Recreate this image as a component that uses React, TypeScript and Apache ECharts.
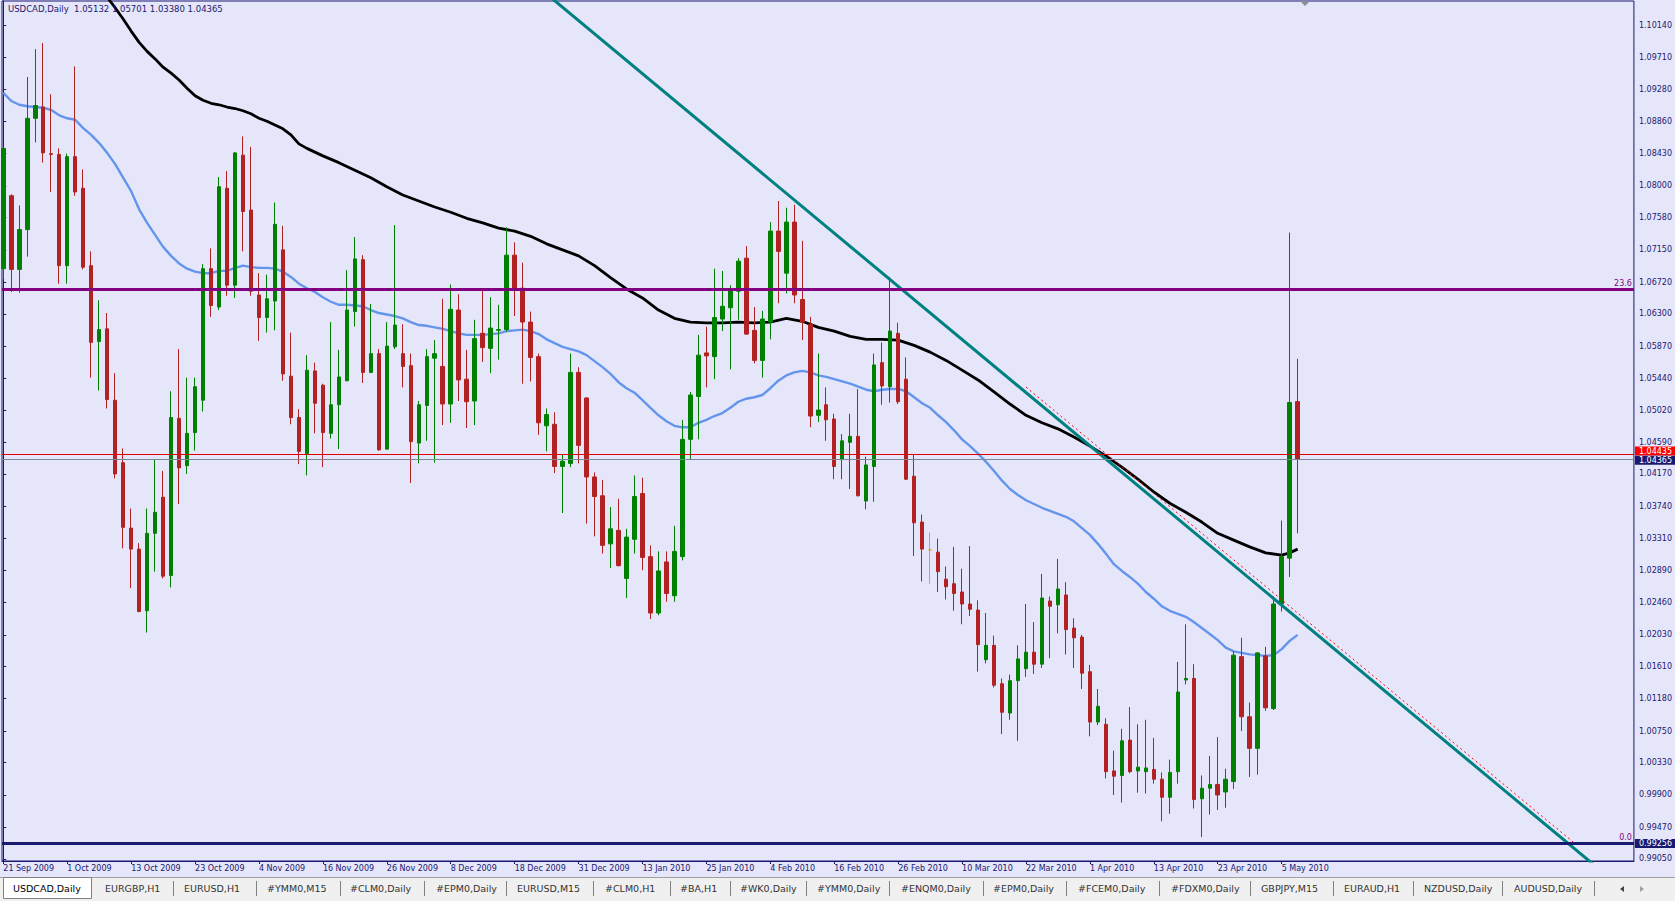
import React, { useEffect, useRef } from 'react';
import * as echarts from 'echarts';

// ---------- data ----------
const SYMBOL_TITLE = 'USDCAD,Daily  1.05132 1.05701 1.03380 1.04365';

const DATE_LABELS = [
  '21 Sep 2009', '1 Oct 2009', '13 Oct 2009', '23 Oct 2009', '4 Nov 2009', '16 Nov 2009',
  '26 Nov 2009', '8 Dec 2009', '18 Dec 2009', '31 Dec 2009', '13 Jan 2010', '25 Jan 2010',
  '4 Feb 2010', '16 Feb 2010', '26 Feb 2010', '10 Mar 2010', '22 Mar 2010', '1 Apr 2010',
  '13 Apr 2010', '23 Apr 2010', '5 May 2010',
];
const BARS_PER_DATE_LABEL = 8;

const PRICE_TICKS = [
  '1.10140', '1.09710', '1.09280', '1.08860', '1.08430', '1.08000', '1.07580', '1.07150',
  '1.06720', '1.06300', '1.05870', '1.05440', '1.05020', '1.04590', '1.04170', '1.03740',
  '1.03310', '1.02890', '1.02460', '1.02030', '1.01610', '1.01180', '1.00750', '1.00330',
  '0.99900', '0.99470', '0.99050',
];

const OPEN = [
  1.0690, 1.0787, 1.0689, 1.0742, 1.0890, 1.0905, 1.0843, 1.0842, 1.0694, 1.0839,
  1.0797, 1.0694, 1.0593, 1.0610, 1.0515, 1.0432, 1.0345, 1.0317, 1.0235, 1.0338,
  1.0386, 1.0282, 1.0491, 1.0428, 1.0472, 1.0515, 1.0690, 1.0639, 1.0797, 1.0668,
  1.0841, 1.0768, 1.0655, 1.0625, 1.0647, 1.0715, 1.0547, 1.0492, 1.0444, 1.0554,
  1.0535, 1.0471, 1.0509, 1.0541, 1.0633, 1.0702, 1.0552, 1.0577, 1.0450, 1.0586,
  1.0577, 1.0561, 1.0458, 1.0508, 1.0571, 1.0560, 1.0510, 1.0635, 1.0543, 1.0514,
  1.0604, 1.0584, 1.0608, 1.0609, 1.0708, 1.0664, 1.0619, 1.0573, 1.0481, 1.0483,
  1.0427, 1.0431, 1.0552, 1.0518, 1.0413, 1.0388, 1.0324, 1.0342, 1.0278, 1.0330,
  1.0391, 1.0307, 1.0232, 1.0300, 1.0255, 1.0307, 1.0463, 1.0520, 1.0578, 1.0573,
  1.0623, 1.0638, 1.0660, 1.0704, 1.0608, 1.0568, 1.0619, 1.0740, 1.0684, 1.0752,
  1.0649, 1.0616, 1.0495, 1.0509, 1.0490, 1.0436, 1.0459, 1.0467, 1.0381, 1.0427,
  1.0565, 1.0533, 1.0604, 1.0543, 1.0414, 1.0353, 1.0316, 1.0313, 1.0277, 1.0271,
  1.0260, 1.0244, 1.0236, 1.0170, 1.0189, 1.0138, 1.0099, 1.0142, 1.0158, 1.0180,
  1.0164, 1.0248, 1.0243, 1.0256, 1.0212, 1.0200, 1.0154, 1.0087, 1.0084, 1.0022,
  1.0016, 1.0063, 1.0022, 1.0021, 1.0024, 1.0011, 0.9987, 1.0021, 1.0143, 1.0145,
  0.9985, 0.9999, 1.0004, 0.9994, 1.0008, 1.0174, 1.0094, 1.0052, 1.0175, 1.0105,
  1.0244, 1.0305, 1.05132,
];
const HIGH = [
  1.0852, 1.0789, 1.0774, 1.0945, 1.0982, 1.0990, 1.0922, 1.0850, 1.0843, 1.0959,
  1.0822, 1.0713, 1.0648, 1.0631, 1.0551, 1.0451, 1.0371, 1.0325, 1.0371, 1.0436,
  1.0421, 1.0527, 1.0583, 1.0545, 1.0545, 1.0696, 1.0717, 1.0812, 1.0820, 1.0845,
  1.0866, 1.0852, 1.0684, 1.0682, 1.0778, 1.0747, 1.0605, 1.0503, 1.0575, 1.0565,
  1.0537, 1.0619, 1.0582, 1.0688, 1.0732, 1.0708, 1.0643, 1.0583, 1.0619, 1.0748,
  1.0616, 1.0577, 1.0514, 1.0583, 1.0595, 1.0650, 1.0669, 1.0656, 1.0582, 1.0622,
  1.0661, 1.0652, 1.0642, 1.0745, 1.0725, 1.0698, 1.0633, 1.0577, 1.0504, 1.0499,
  1.0443, 1.0577, 1.0559, 1.0519, 1.0419, 1.0409, 1.0373, 1.0384, 1.0344, 1.0415,
  1.0412, 1.0322, 1.0314, 1.0314, 1.0348, 1.0489, 1.0526, 1.0602, 1.0613, 1.0690,
  1.0687, 1.0668, 1.0704, 1.0720, 1.0639, 1.0634, 1.0752, 1.0780, 1.0771, 1.0775,
  1.0727, 1.0626, 1.0577, 1.0532, 1.0497, 1.0470, 1.0497, 1.0530, 1.0440, 1.0577,
  1.0592, 1.0679, 1.0618, 1.0572, 1.0443, 1.0363, 1.0339, 1.0331, 1.0294, 1.0320,
  1.0291, 1.0321, 1.0249, 1.0232, 1.0202, 1.0145, 1.0150, 1.0189, 1.0244, 1.0220,
  1.0284, 1.0254, 1.0304, 1.0273, 1.0225, 1.0203, 1.0163, 1.0131, 1.0092, 1.0049,
  1.0078, 1.0107, 1.0084, 1.0090, 1.0066, 1.0020, 1.0037, 1.0167, 1.0217, 1.0164,
  1.0016, 1.0042, 1.0067, 1.0025, 1.0181, 1.0199, 1.0113, 1.0180, 1.0187, 1.0254,
  1.0355, 1.0738, 1.05701,
];
const LOW = [
  1.0676, 1.0659, 1.0658, 1.0706, 1.0858, 1.0831, 1.0792, 1.0670, 1.0670, 1.0787,
  1.0689, 1.0545, 1.0528, 1.0504, 1.0411, 1.0318, 1.0265, 1.0233, 1.0206, 1.0287,
  1.0278, 1.0266, 1.0377, 1.0417, 1.0448, 1.0500, 1.0626, 1.0635, 1.0654, 1.0651,
  1.0713, 1.0654, 1.0594, 1.0605, 1.0608, 1.0541, 1.0483, 1.0430, 1.0415, 1.0471,
  1.0426, 1.0464, 1.0450, 1.0540, 1.0613, 1.0538, 1.0551, 1.0448, 1.0449, 1.0583,
  1.0532, 1.0405, 1.0431, 1.0461, 1.0432, 1.0482, 1.0485, 1.0514, 1.0478, 1.0482,
  1.0566, 1.0551, 1.0569, 1.0606, 1.0627, 1.0537, 1.0540, 1.0469, 1.0447, 1.0418,
  1.0365, 1.0426, 1.0431, 1.0351, 1.0334, 1.0311, 1.0292, 1.0294, 1.0252, 1.0311,
  1.0289, 1.0224, 1.0229, 1.0247, 1.0247, 1.0302, 1.0436, 1.0463, 1.0532, 1.0543,
  1.0607, 1.0556, 1.0622, 1.0602, 1.0564, 1.0545, 1.0596, 1.0644, 1.0657, 1.0644,
  1.0595, 1.0479, 1.0486, 1.0461, 1.0410, 1.0410, 1.0397, 1.0387, 1.0370, 1.0380,
  1.0509, 1.0512, 1.0510, 1.0409, 1.0308, 1.0274, 1.0271, 1.0260, 1.0250, 1.0235,
  1.0217, 1.0228, 1.0154, 1.0165, 1.0133, 1.0071, 1.0090, 1.0062, 1.0147, 1.0151,
  1.0159, 1.0172, 1.0205, 1.0177, 1.0159, 1.0131, 1.0068, 1.0083, 1.0012, 0.9990,
  0.9980, 1.0019, 0.9993, 0.9992, 1.0005, 0.9955, 0.9965, 1.0005, 1.0137, 0.9972,
  0.9934, 0.9964, 0.9970, 0.9973, 0.9998, 1.0075, 1.0014, 1.0017, 1.0102, 1.0103,
  1.0234, 1.0280, 1.03380,
];
const CLOSE = [
  1.0850, 1.0689, 1.0742, 1.0890, 1.0907, 1.0844, 1.0842, 1.0694, 1.0839, 1.0792,
  1.0692, 1.0592, 1.0609, 1.0516, 1.0417, 1.0346, 1.0317, 1.0234, 1.0338, 1.0366,
  1.0281, 1.0492, 1.0425, 1.0471, 1.0533, 1.0690, 1.0641, 1.0799, 1.0668, 1.0844,
  1.0766, 1.0660, 1.0625, 1.0650, 1.0749, 1.0550, 1.0492, 1.0447, 1.0555, 1.0511,
  1.0472, 1.0509, 1.0546, 1.0635, 1.0703, 1.0552, 1.0577, 1.0449, 1.0587, 1.0615,
  1.0560, 1.0460, 1.0509, 1.0573, 1.0577, 1.0510, 1.0636, 1.0542, 1.0513, 1.0597,
  1.0585, 1.0611, 1.0609, 1.0708, 1.0662, 1.0619, 1.0572, 1.0485, 1.0496, 1.0427,
  1.0434, 1.0552, 1.0455, 1.0413, 1.0387, 1.0322, 1.0344, 1.0295, 1.0333, 1.0387,
  1.0306, 1.0232, 1.0288, 1.0258, 1.0314, 1.0463, 1.0522, 1.0575, 1.0574, 1.0625,
  1.0640, 1.0661, 1.0700, 1.0603, 1.0568, 1.0623, 1.0740, 1.0713, 1.0752, 1.0655,
  1.0619, 1.0494, 1.0502, 1.0489, 1.0427, 1.0461, 1.0467, 1.0388, 1.0429, 1.0562,
  1.0534, 1.0607, 1.0513, 1.0410, 1.0352, 1.0317, 1.0316, 1.0287, 1.0267, 1.0258,
  1.0244, 1.0237, 1.0190, 1.0189, 1.0136, 1.0100, 1.0142, 1.0171, 1.0180, 1.0164,
  1.0252, 1.0241, 1.0264, 1.0210, 1.0199, 1.0152, 1.0087, 1.0108, 1.0021, 1.0015,
  1.0062, 1.0021, 1.0027, 1.0026, 1.0011, 0.9987, 1.0020, 1.0127, 1.0145, 0.9984,
  0.9999, 1.0004, 0.9990, 1.0011, 1.0176, 1.0094, 1.0052, 1.0179, 1.0106, 1.0244,
  1.0307, 1.0512, 1.04365,
];

// slow moving average (black), read at these bar positions
const SLOW_MA_BARS = [
  12, 13, 14, 15, 16, 17, 18, 19, 20, 21, 22, 23, 24, 25, 26, 27, 28, 29, 30, 31, 32, 33, 34, 35, 36, 37,
  38, 40, 42, 44, 46, 48, 50, 52, 54, 56, 58, 60, 62, 64, 66, 68, 70, 72, 74, 76, 78, 80, 82, 84, 86, 88,
  90, 92, 94, 96, 98, 100, 102, 104, 106, 108, 110, 112, 114, 116, 118, 120, 122, 124, 126, 128, 130,
  132, 134, 136, 138, 140, 142, 144, 146, 148, 150, 152, 154, 156, 158, 160, 161, 162,
];
const SLOW_MA = [
  1.1063, 1.1051, 1.1037, 1.1022, 1.1006, 1.0991, 1.0979, 1.0969, 1.0958, 1.0950, 1.0941, 1.0930, 1.0920,
  1.0914, 1.0910, 1.0908, 1.0905, 1.0903, 1.0900, 1.0896, 1.0890, 1.0886, 1.0881, 1.0876, 1.0868, 1.0856,
  1.0850, 1.0840, 1.0831, 1.0821, 1.0811, 1.0799, 1.0788, 1.0780, 1.0772, 1.0765, 1.0757, 1.0751, 1.0744,
  1.0740, 1.0733, 1.0723, 1.0715, 1.0707, 1.0694, 1.0678, 1.0663, 1.0651, 1.0635, 1.0624, 1.0619, 1.0618,
  1.0618, 1.0619, 1.0618, 1.0619, 1.0624, 1.0620, 1.0612, 1.0607, 1.0600, 1.0596, 1.0596, 1.0595, 1.0588,
  1.0579, 1.0568, 1.0555, 1.0542, 1.0526, 1.0510, 1.0495, 1.0485, 1.0477, 1.0466, 1.0454, 1.0441, 1.0426,
  1.0410, 1.0393, 1.0378, 1.0366, 1.0353, 1.0338, 1.0329, 1.0320, 1.0312, 1.0309, 1.0312, 1.0317,
];

// fast moving average (blue), one value per bar
const FAST_MA = [
  1.0924, 1.0913, 1.0908, 1.0906, 1.0905, 1.0904, 1.0901, 1.0894, 1.0890, 1.0888,
  1.0877, 1.0868, 1.0857, 1.0844, 1.0829, 1.0811, 1.0793, 1.0769, 1.0751, 1.0735,
  1.0719, 1.0707, 1.0697, 1.0690, 1.0686, 1.0684, 1.0684, 1.0687, 1.0687, 1.0691,
  1.0694, 1.0692, 1.0691, 1.0691, 1.0690, 1.0686, 1.0679, 1.0670, 1.0664, 1.0659,
  1.0652, 1.0646, 1.0642, 1.0642, 1.0641, 1.0640, 1.0635, 1.0631, 1.0629, 1.0627,
  1.0624, 1.0619, 1.0615, 1.0614, 1.0612, 1.0610, 1.0607, 1.0604, 1.0602, 1.0602,
  1.0602, 1.0603, 1.0604, 1.0607, 1.0608, 1.0609, 1.0607, 1.0603, 1.0596, 1.0591,
  1.0586, 1.0583, 1.0580, 1.0575, 1.0567, 1.0559, 1.0550, 1.0539, 1.0531, 1.0525,
  1.0515, 1.0505, 1.0495, 1.0487, 1.0481, 1.0479, 1.0479, 1.0485, 1.0489, 1.0494,
  1.0498, 1.0505, 1.0513, 1.0517, 1.0519, 1.0522, 1.0531, 1.0541, 1.0548, 1.0552,
  1.0554, 1.0552, 1.0548, 1.0546, 1.0543, 1.0540, 1.0537, 1.0533, 1.0529, 1.0527,
  1.0529, 1.0530, 1.0530, 1.0527, 1.0519, 1.0511, 1.0505, 1.0495, 1.0486, 1.0475,
  1.0463, 1.0454, 1.0444, 1.0433, 1.0421, 1.0408, 1.0397, 1.0389, 1.0382, 1.0377,
  1.0372, 1.0368, 1.0364, 1.0360, 1.0354, 1.0345, 1.0336, 1.0324, 1.0311, 1.0297,
  1.0288, 1.0280, 1.0271, 1.0260, 1.0251, 1.0241, 1.0235, 1.0231, 1.0227, 1.0220,
  1.0212, 1.0204, 1.0196, 1.0186, 1.0181, 1.0179, 1.0177, 1.0176, 1.0175, 1.0176,
  1.0184, 1.0195, 1.0203,
];

// drawn objects: [bar position, price]
const TRENDLINE = [[66, 1.1073], [200, 0.9889]];
const FIBO_DIAGONAL = [[128, 1.05325], [196.68, 0.99256]];
const FIBO_LEVEL_236 = 1.0662;
const FIBO_LEVEL_0 = 0.99256;
const ASK_PRICE = 1.04435;
const BID_PRICE = 1.04365;

const TABS = [
  'USDCAD,Daily', 'EURGBP,H1', 'EURUSD,H1', '#YMM0,M15', '#CLM0,Daily', '#EPM0,Daily',
  'EURUSD,M15', '#CLM0,H1', '#BA,H1', '#WK0,Daily', '#YMM0,Daily', '#ENQM0,Daily',
  '#EPM0,Daily', '#FCEM0,Daily', '#FDXM0,Daily', 'GBPJPY,M15', 'EURAUD,H1', 'NZDUSD,Daily',
  'AUDUSD,Daily',
];

// ---------- layout (pixels) ----------
const W = 1675;
const H = 901;
const GRID_LEFT = 2;
const GRID_TOP = 1;
const GRID_W = 1634;
const GRID_H = 860;
const BAR_PX = 8;
const FIRST_BAR_OFFSET = 1.3;
const X_MIN = -FIRST_BAR_OFFSET / BAR_PX;
const X_MAX = X_MIN + GRID_W / BAR_PX;
const Y_MIN = 0.99022;
const Y_MAX = 1.1046;
const TAB_TEXT_X = [13, 105, 184, 267, 350, 436, 517, 605, 680, 740, 817, 901, 993, 1078, 1171, 1261, 1344, 1424, 1514];
const TAB_SEP_X = [173, 256, 340, 424, 506, 593, 670, 730, 806, 889, 983, 1066, 1159, 1250, 1333, 1413, 1502, 1594];

const FONT = 'DejaVu Sans';
const FG = '#191970';

export default function App() {
  const ref = useRef<HTMLDivElement>(null);

  useEffect(() => {
    if (!ref.current) return;
    const chart = echarts.init(ref.current, null, { renderer: 'svg' });

    const candles = OPEN.map((o, i) => [i, o, CLOSE[i], LOW[i], HIGH[i]]);
    const slow = SLOW_MA_BARS.map((b, i) => [b, SLOW_MA[i]]);
    const fast = FAST_MA.map((v, i) => [i, v]);
    const dateTicks = DATE_LABELS.map((_, i) => i * BARS_PER_DATE_LABEL);
    const priceTicks = PRICE_TICKS.map((t) => parseFloat(t));

    const tabY = 888.5;
    const tabGraphics: any[] = [
      { type: 'rect', shape: { x: 0, y: 877, width: W, height: 24 }, style: { fill: '#F0F0F0' }, silent: true },
      { type: 'line', shape: { x1: 0, y1: 877.5, x2: W, y2: 877.5 }, style: { stroke: '#A0A0A0', lineWidth: 1 }, silent: true },
      { type: 'rect', shape: { x: 3.5, y: 877.5, width: 88, height: 21 }, style: { fill: '#FFFFFF', stroke: '#808080', lineWidth: 1 }, silent: true },
    ];
    TABS.forEach((t, i) => {
      tabGraphics.push({
        type: 'text', x: TAB_TEXT_X[i], y: tabY, silent: true,
        style: { text: t, fill: i === 0 ? '#000000' : '#333333', font: `9.5px "${FONT}"`, verticalAlign: 'middle', align: 'left' },
      });
    });
    TAB_SEP_X.forEach((x) => {
      tabGraphics.push({ type: 'line', shape: { x1: x + 0.5, y1: 881, x2: x + 0.5, y2: 896 }, style: { stroke: '#808080', lineWidth: 1 }, silent: true });
    });
    tabGraphics.push(
      { type: 'polygon', shape: { points: [[1620, 889], [1624, 886], [1624, 892]] }, style: { fill: '#404040' }, silent: true },
      { type: 'polygon', shape: { points: [[1644, 889], [1640, 886], [1640, 892]] }, style: { fill: '#A0A0A0' }, silent: true },
      { type: 'polygon', shape: { points: [[1300, 1], [1310, 1], [1305, 6]] }, style: { fill: '#8C8C9C' }, silent: true },
    );

    const boxLabel = (text: string, bg: string, dy = 0) => ({
      show: true, position: 'end', formatter: text, color: '#FFFFFF',
      backgroundColor: bg, padding: [0, 4, 0, 4], lineHeight: 9, fontSize: 8, fontFamily: FONT, distance: 1,
      offset: [0, dy],
    });

    const option: any = {
      animation: false,
      backgroundColor: '#E6E6FA',
      textStyle: { fontFamily: FONT },
      title: {
        text: SYMBOL_TITLE, left: 8, top: 4, padding: 0,
        textStyle: { fontSize: 8.5, fontWeight: 'normal', color: FG, fontFamily: FONT },
      },
      grid: {
        left: GRID_LEFT, top: GRID_TOP, width: GRID_W, height: GRID_H,
        show: true, borderColor: FG, borderWidth: 1, backgroundColor: 'transparent',
      },
      xAxis: {
        type: 'value', min: X_MIN, max: X_MAX, position: 'bottom',
        axisLine: { show: true, onZero: false, lineStyle: { color: FG, width: 1 } },
        axisTick: { show: true, customValues: dateTicks, length: 3, lineStyle: { color: FG } },
        axisLabel: {
          show: true, customValues: dateTicks, align: 'left', margin: 3,
          fontSize: 8, color: FG, fontFamily: FONT,
          formatter: (v: number) => DATE_LABELS[Math.round(v / BARS_PER_DATE_LABEL)] ?? '',
        },
        splitLine: { show: false },
      },
      yAxis: {
        type: 'value', min: Y_MIN, max: Y_MAX, position: 'right', scale: true,
        axisLine: { show: true, lineStyle: { color: FG, width: 1 } },
        axisTick: { show: true, customValues: priceTicks, length: 3, lineStyle: { color: FG } },
        axisLabel: {
          show: true, customValues: priceTicks, margin: 5, fontSize: 8, color: FG, fontFamily: FONT,
          formatter: (v: number) => v.toFixed(5),
        },
        splitLine: { show: false },
      },
      series: [
        {
          type: 'line', name: 'FastMA', data: fast, symbol: 'none', z: 2,
          lineStyle: { color: '#6495ED', width: 2.4 }, clip: true, silent: true,
        },
        {
          type: 'line', name: 'SlowMA', data: slow, symbol: 'none', z: 2,
          lineStyle: { color: '#000000', width: 2.8 }, clip: true, silent: true,
        },
        {
          type: 'candlestick', name: 'USDCAD', data: candles, z: 3,
          dimensions: ['bar', 'open', 'close', 'low', 'high'],
          encode: { x: 0, y: [1, 2, 3, 4] },
          barWidth: 4, silent: true,
          itemStyle: {
            color: '#008000', color0: '#B22222', borderColor: '#008000', borderColor0: '#B22222',
            borderColorDoji: '#DAA520', borderWidth: 1,
          },
          markLine: {
            silent: true, symbol: ['none', 'none'], animation: false, precision: 5,
            data: [
              {
                yAxis: FIBO_LEVEL_236, lineStyle: { color: '#800080', width: 3, type: 'solid' },
                label: { show: true, position: 'insideEndTop', formatter: '23.6', color: '#800080', fontSize: 8, fontFamily: FONT, distance: 2 },
              },
              {
                yAxis: FIBO_LEVEL_0, lineStyle: { color: '#191970', width: 3, type: 'solid' },
                label: { show: true, position: 'insideEndTop', formatter: '0.0', color: '#800080', fontSize: 8, fontFamily: FONT, distance: 2 },
              },
              {
                yAxis: FIBO_LEVEL_0, lineStyle: { color: '#191970', width: 3, type: 'solid' },
                label: boxLabel(FIBO_LEVEL_0.toFixed(5), '#191970'),
              },
              {
                yAxis: ASK_PRICE, lineStyle: { color: '#E00000', width: 1, type: 'solid' },
                label: boxLabel(ASK_PRICE.toFixed(5), '#FF0000', -3),
              },
              {
                yAxis: BID_PRICE, lineStyle: { color: '#778899', width: 1, type: 'solid' },
                label: boxLabel(BID_PRICE.toFixed(5), '#191970', 1),
              },
            ],
          },
        },
        {
          type: 'line', name: 'Trendline', data: TRENDLINE, symbol: 'none', z: 4,
          lineStyle: { color: '#008080', width: 3 }, clip: true, silent: true,
        },
        {
          type: 'line', name: 'FiboDiagonal', data: FIBO_DIAGONAL, symbol: 'none', z: 5,
          lineStyle: { color: '#FF0000', width: 1, type: [2, 3] }, clip: true, silent: true,
        },
      ],
      graphic: tabGraphics,
    };

    chart.setOption(option);
    return () => chart.dispose();
  }, []);

  return <div ref={ref} style={{ position: 'fixed', left: 0, top: 0, width: W, height: H }} />;
}
